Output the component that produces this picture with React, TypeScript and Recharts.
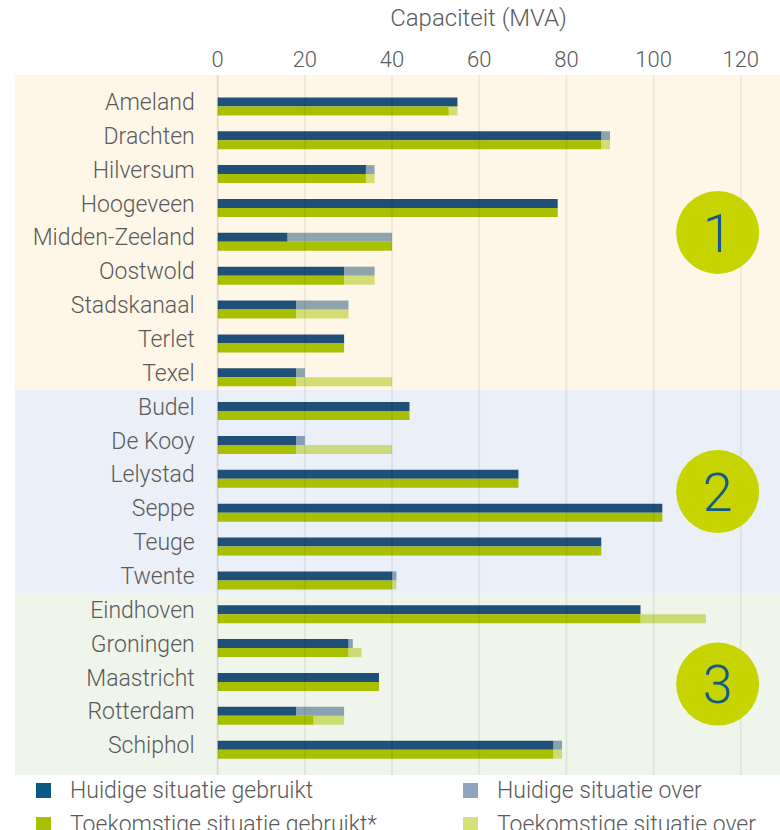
import {
  BarChart,
  Bar,
  XAxis,
  YAxis,
  ReferenceArea,
  ReferenceLine,
  ReferenceDot,
  LabelList,
} from 'recharts';

const categories = [
  'Ameland', 'Drachten', 'Hilversum', 'Hoogeveen', 'Midden-Zeeland', 'Oostwold',
  'Stadskanaal', 'Terlet', 'Texel', 'Budel', 'De Kooy', 'Lelystad', 'Seppe',
  'Teuge', 'Twente', 'Eindhoven', 'Groningen', 'Maastricht', 'Rotterdam', 'Schiphol',
];
const huidigGebruikt = [55, 88, 34, 78, 16, 29, 18, 29, 18, 44, 18, 69, 102, 88, 40, 97, 30, 37, 18, 77];
const huidigOver = [0, 2, 2, 0, 24, 7, 12, 0, 2, 0, 2, 0, 0, 0, 1, 0, 1, 0, 11, 2];
const toekomstGebruikt = [53, 88, 34, 78, 40, 29, 18, 29, 18, 44, 18, 69, 102, 88, 40, 97, 30, 37, 22, 77];
const toekomstOver = [2, 2, 2, 0, 0, 7, 12, 0, 22, 0, 22, 0, 0, 0, 1, 15, 3, 0, 7, 2];
const groupOf = [1, 1, 1, 1, 1, 1, 1, 1, 1, 2, 2, 2, 2, 2, 2, 3, 3, 3, 3, 3];
const groups = ['1', '2', '3'];
const xTicks = [0, 20, 40, 60, 80, 100, 120];

const FONT = 'Roboto, "Liberation Sans", sans-serif';
const TEXT = '#5a5a5a';

const series = [
  { key: 'huidigGebruikt', name: 'Huidige situatie gebruikt', stack: 'h', color: '#204f78', opacity: 1, legend: '#0b5a82' },
  { key: 'huidigOver', name: 'Huidige situatie over', stack: 'h', color: '#204f78', opacity: 0.5, legend: '#8fa5bd' },
  { key: 'toekomstGebruikt', name: 'Toekomstige situatie gebruikt*', stack: 't', color: '#a8c000', opacity: 1, legend: '#a8c000' },
  { key: 'toekomstOver', name: 'Toekomstige situatie over', stack: 't', color: '#a8c400', opacity: 0.5, legend: '#d4e07a' },
];

const bandFill: Record<string, string> = { '1': '#fef7e7', '2': '#ebeff8', '3': '#f0f5eb' };

const Y_MIN = -0.925;
const Y_MAX = 19.75;

const data = categories.map((name, i) => ({
  pos: i,
  name,
  huidigGebruikt: huidigGebruikt[i],
  huidigOver: huidigOver[i],
  toekomstGebruikt: toekomstGebruikt[i],
  toekomstOver: toekomstOver[i],
}));

const bands = groups.map((g) => {
  const rows = groupOf.map((v, i) => (String(v) === g ? i : -1)).filter((i) => i >= 0);
  const first = rows[0];
  const last = rows[rows.length - 1];
  const y1 = first === 0 ? Y_MIN : first - 0.62;
  const y2 = last === categories.length - 1 ? Y_MAX : last + 0.38;
  return { g, y1, y2, mid: (y1 + y2) / 2 };
});

export default function App() {
  return (
    <div style={{ position: 'absolute', left: 0, top: 0, width: 780, height: 830, overflow: 'hidden', background: '#fff' }}>
      <BarChart
        width={780}
        height={776}
        data={data}
        layout="vertical"
        margin={{ top: 0, right: 0, left: 15, bottom: 1 }}
        barGap={0}
      >
        <XAxis
          type="number"
          orientation="top"
          domain={[-46.5, 129]}
          ticks={xTicks}
          allowDataOverflow
          height={75}
          axisLine={false}
          tickLine={false}
          tickSize={0}
          tickMargin={8}
          tick={{ fill: TEXT, fontSize: 22, fontFamily: FONT, fontWeight: 300 }}
          label={{
            value: 'Capaciteit (MVA)',
            position: 'insideTop',
            offset: 9,
            dx: 81,
            fill: TEXT,
            fontSize: 24,
            fontFamily: FONT,
            fontWeight: 300,
          }}
        />
        <YAxis type="number" dataKey="pos" domain={[Y_MIN, Y_MAX]} allowDataOverflow hide width={0} />
        {bands.map((b) => (
          <ReferenceArea key={b.g} y1={b.y1} y2={b.y2} fill={bandFill[b.g]} fillOpacity={1} stroke="none" />
        ))}
        {xTicks.map((t) => (
          <ReferenceLine key={t} x={t} stroke={t === 0 ? 'rgba(0,0,0,0.1)' : 'rgba(0,0,0,0.06)'} strokeWidth={2} />
        ))}
        {series.map((s, i) => (
          <Bar
            key={s.key}
            dataKey={s.key}
            name={s.name}
            stackId={s.stack}
            fill={s.color}
            fillOpacity={s.opacity}
            barSize={9}
            isAnimationActive={false}
          >
            {i === 0 && (
              <LabelList
                dataKey="name"
                position="left"
                offset={23}
                fill={TEXT}
                fontSize={23}
                fontFamily={FONT}
                fontWeight={300}
              />
            )}
          </Bar>
        ))}
        {bands.map((b) => (
          <ReferenceDot
            key={'c' + b.g}
            x={114.7}
            y={b.mid}
            r={41.5}
            fill="#c8d400"
            stroke="none"
            label={{ value: b.g, position: 'center', fill: '#13598a', fontSize: 54, fontFamily: FONT, fontWeight: 300 }}
          />
        ))}
      </BarChart>
      <div
        style={{
          position: 'absolute',
          top: 778,
          left: 36,
          display: 'grid',
          gridTemplateColumns: '427px 330px',
          rowGap: 10,
          fontFamily: FONT,
          fontWeight: 300,
          fontSize: 23,
          color: TEXT,
        }}
      >
        {series.map((s) => (
          <div key={s.key} style={{ display: 'flex', alignItems: 'center', height: 24, whiteSpace: 'nowrap' }}>
            <span style={{ width: 15, height: 15, background: s.legend, marginRight: 19, flexShrink: 0 }} />
            {s.name}
          </div>
        ))}
      </div>
    </div>
  );
}
